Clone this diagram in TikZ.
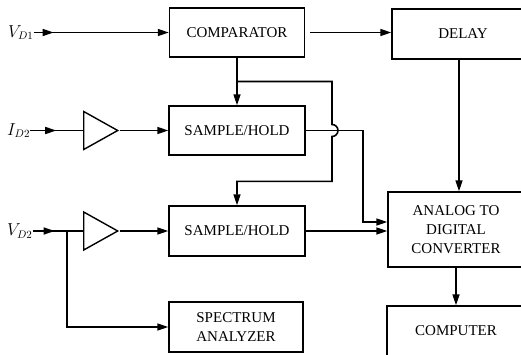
\documentclass[tikz,border=0pt]{standalone}
\usepackage{fontspec}
\setmainfont{Liberation Serif}
\usetikzlibrary{arrows.meta,shapes.geometric,decorations.markings,calc}

\begin{document}
\begin{tikzpicture}[x=1pt,y=1pt,
  every node/.style={font=\fontsize{15}{19}\selectfont},
  blk/.style={draw, line width=1.4pt, align=center, inner sep=0pt, minimum width=136pt, minimum height=50pt},
  amp/.style={draw, line width=1.4pt, isosceles triangle, isosceles triangle stretches, minimum width=38pt, minimum height=34pt, inner sep=0pt, anchor=lower side},
  sig/.style={font=\fontsize{16}{18}\selectfont, inner sep=0pt, anchor=west},
  wire/.style={line width=1.6pt},
  arr/.style={wire, -{Triangle[length=11pt,width=7pt]}},
  midarr/.style={postaction={decorate}, decoration={markings, mark=at position #1 with {\arrow{Triangle[length=11pt,width=7pt]}}}}]

\useasboundingbox (0,0) rectangle (521,-354);

% blocks
\node[blk, minimum width=135pt, minimum height=49pt] (comp) at (237,-32.5) {COMPARATOR};
\node[blk, minimum width=142pt] (delay) at (463,-34) {DELAY};
\node[blk, minimum height=49pt] (sh1) at (237,-130.5) {SAMPLE/HOLD};
\node[blk] (sh2) at (237,-231) {SAMPLE/HOLD};
\node[blk, minimum width=134pt] (spec) at (236,-327) {SPECTRUM\\ANALYZER};
\node[blk, minimum height=75pt] (adc) at (456,-229.5) {ANALOG TO\\DIGITAL\\CONVERTER};
\node[blk, minimum width=138pt] (comput) at (456,-331) {COMPUTER};

% amplifiers
\node[amp] (amp1) at (83,-130.5) {};
\node[amp] (amp2) at (83,-231) {};

% inputs
\node[sig] (vd1) at (8,-32.5) {$V_{D1}$};
\node[sig] (id2) at (7,-130.5) {$I_{D2}$};
\node[sig] (vd2) at (7,-231) {$V_{D2}$};

\coordinate (tapA) at ($(comp.south)!0.5!(sh1.north)$);
\coordinate (hop) at (332,-130.5);
\coordinate (bend) at (363,0);
\coordinate (dcol) at (459,0);
\coordinate (jn) at (67,-231);

\draw[arr, midarr=20pt] (vd1.east) -- (vd1.east -| comp.west);
\draw[arr, shorten <=5pt] (comp.east) -- (comp.east -| delay.west);
\draw[arr] (comp.south) -- (sh1.north);
\draw[arr] (tapA) -| ($(hop)+(0,6)$) arc[start angle=90,end angle=-90,radius=6] |- ($(sh2.north)+(0,24)$) -- (sh2.north);

\draw[wire, midarr=26pt] (id2.east) -- (amp1.lower side);
\draw[arr] (amp1.apex) -- (sh1.west);
\draw[arr] (sh1.east) -- (sh1.east -| bend) |- ($(adc.west)+(0,7.5)$);

\draw[wire, midarr=22pt] (vd2.east) -- (jn) -- (amp2.lower side);
\draw[arr] (amp2.apex) -- (sh2.west);
\draw[arr] (jn) |- (spec.west);
\draw[arr] (sh2.east) -- (sh2.east -| adc.west);

\draw[arr] (dcol |- delay.south) -- (dcol |- adc.north);
\draw[arr] (adc.south) -- (comput.north);
\end{tikzpicture}
\end{document}
